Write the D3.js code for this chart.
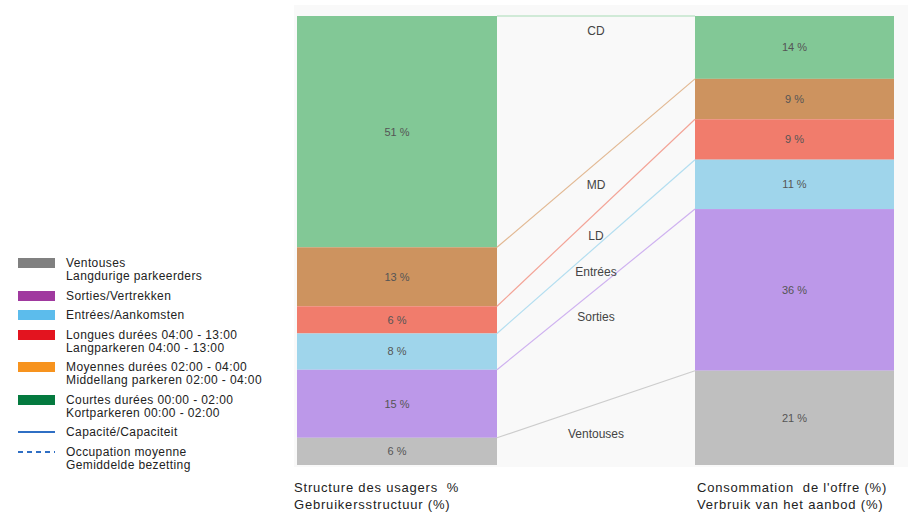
<!DOCTYPE html>
<html>
<head>
<meta charset="utf-8">
<script src="https://cdn.jsdelivr.net/npm/d3@7"></script>
<style>
  body { margin:0; background:#fff; }
  text { font-family: "Liberation Sans", Arial, sans-serif; }
</style>
</head>
<body>
<div class="chart"></div>
<script>
// categories, top to bottom of each stack
var cats       = ["CD", "MD", "LD", "Entrées", "Sorties", "Ventouses"];
var usagers    = [51, 13, 6, 8, 15, 6];      // Structure des usagers %
var offre      = [14, 9, 9, 11, 36, 21];     // Consommation de l'offre %
var colors     = ["#82c896", "#cd935f", "#f17c6c", "#9fd5eb", "#bc98e9", "#bfbfbf"];
var linkColors = ["#a8dcb6", "#e2b892", "#f3a497", "#b3def0", "#cfb2f0", "#cdcdcd"];
// where the middle labels sit, in % of the column height
var midLabelPos = [3.3, 37.5, 49, 57, 67, 93];

var legendItems = [
  {lines:["Ventouses", "Langdurige parkeerders"], color:"#808080", type:"box"},
  {lines:["Sorties/Vertrekken"], color:"#a0399f", type:"box"},
  {lines:["Entrées/Aankomsten"], color:"#5cbcec", type:"box"},
  {lines:["Longues durées 04:00 - 13:00", "Langparkeren 04:00 - 13:00"], color:"#e3141f", type:"box"},
  {lines:["Moyennes durées 02:00 - 04:00", "Middellang parkeren 02:00 - 04:00"], color:"#f7931e", type:"box"},
  {lines:["Courtes durées 00:00 - 02:00", "Kortparkeren 00:00 - 02:00"], color:"#047a3f", type:"box"},
  {lines:["Capacité/Capaciteit"], color:"#2f6fc4", type:"line"},
  {lines:["Occupation moyenne", "Gemiddelde bezetting"], color:"#2f6fc4", type:"dash"}
];
var legendY = [263, 296, 315, 335, 367, 400, 432, 452];

var W = 914, H = 515;
var barTop = 16, barBottom = 465;
var leftX = 297, midX = 497, rightX = 695, rightEnd = 894;

var svg = d3.select(".chart").append("svg").attr("width", W).attr("height", H);

// panel background
svg.append("rect").attr("x", 294).attr("y", 5).attr("width", 614).attr("height", 462)
  .attr("fill", "#f9f9f9");

function stack(vals){
  var acc = 0;
  return vals.map(function(v, i){
    var s = {i:i, v:v, y0:acc, y1:acc + v};
    acc += v;
    return s;
  });
}
var leftStack = stack(usagers), rightStack = stack(offre);
var yL = d3.scaleLinear().domain([0, d3.sum(usagers)]).range([barTop, barBottom]);
var yR = d3.scaleLinear().domain([0, d3.sum(offre)]).range([barTop, barBottom]);
var yMid = d3.scaleLinear().domain([0, 100]).range([barTop, barBottom]);

function drawBar(data, y, x0, x1){
  var g = svg.append("g");
  g.selectAll("rect").data(data).enter().append("rect")
    .attr("x", x0).attr("width", x1 - x0)
    .attr("y", function(d){ return y(d.y0); })
    .attr("height", function(d){ return y(d.y1) - y(d.y0); })
    .attr("fill", function(d){ return colors[d.i]; });
  g.selectAll("text").data(data).enter().append("text")
    .attr("x", (x0 + x1) / 2)
    .attr("y", function(d){ return (y(d.y0) + y(d.y1)) / 2; })
    .attr("dy", "0.35em")
    .attr("text-anchor", "middle")
    .attr("font-size", 11)
    .attr("fill", "#555")
    .text(function(d){ return d.v + " %"; });
}
drawBar(leftStack, yL, leftX, midX);
drawBar(rightStack, yR, rightX, rightEnd);

// connecting lines between the tops of matching segments
svg.append("g").selectAll("line").data(leftStack).enter().append("line")
  .attr("x1", midX).attr("x2", rightX)
  .attr("y1", function(d){ return yL(d.y0); })
  .attr("y2", function(d, i){ return yR(rightStack[i].y0); })
  .attr("stroke", function(d){ return linkColors[d.i]; })
  .attr("stroke-width", 1.2);

// middle labels
svg.append("g").selectAll("text").data(cats).enter().append("text")
  .attr("x", (midX + rightX) / 2)
  .attr("y", function(d, i){ return yMid(midLabelPos[i]); })
  .attr("dy", "0.35em")
  .attr("text-anchor", "middle")
  .attr("font-size", 12)
  .attr("fill", "#444")
  .text(function(d){ return d; });

// axis captions
var caps = [
  {x:294, lines:["Structure des usagers  %", "Gebruikersstructuur (%)"]},
  {x:697, lines:["Consommation  de l'offre (%)", "Verbruik van het aanbod (%)"]}
];
caps.forEach(function(c){
  var t = svg.append("text").attr("x", c.x).attr("y", 492).attr("font-size", 13).attr("fill", "#222")
    .attr("letter-spacing", 0.8).attr("xml:space", "preserve").style("white-space", "pre");
  c.lines.forEach(function(l, k){
    t.append("tspan").attr("x", c.x).attr("dy", k ? 17 : 0).text(l);
  });
});

// legend
var lg = svg.append("g");
legendItems.forEach(function(d, i){
  var y = legendY[i];
  if (d.type === "box") {
    lg.append("rect").attr("x", 18).attr("y", y - 5).attr("width", 37).attr("height", 10).attr("fill", d.color);
  } else {
    lg.append("line").attr("x1", 18).attr("x2", 55).attr("y1", y).attr("y2", y)
      .attr("stroke", d.color).attr("stroke-width", 2)
      .attr("stroke-dasharray", d.type === "dash" ? "5,4" : null);
  }
  var t = lg.append("text").attr("x", 66).attr("y", y + 4).attr("font-size", 12).attr("fill", "#222")
    .attr("letter-spacing", 0.4);
  d.lines.forEach(function(l, k){
    t.append("tspan").attr("x", 66).attr("dy", k ? 13 : 0).text(l);
  });
});
</script>
</body>
</html>
